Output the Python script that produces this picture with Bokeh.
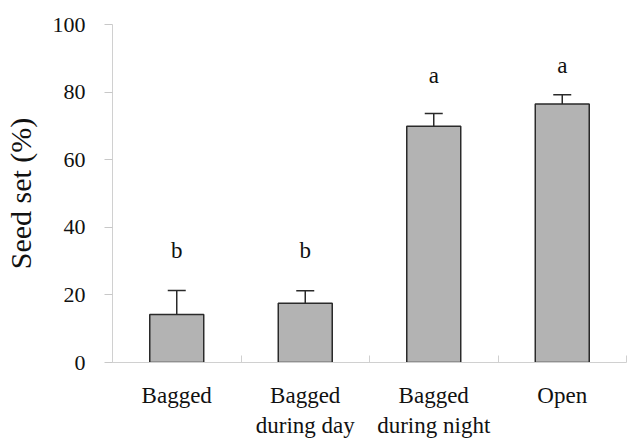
from bokeh.plotting import figure
from bokeh.models import ColumnDataSource, FixedTicker, Whisker, TeeHead, Range1d
from bokeh.core.properties import value
from bokeh.embed import file_html
from bokeh.resources import INLINE

categories = ["Bagged", "Bagged\nduring day", "Bagged\nduring night", "Open"]
seed_set = [14.2, 17.5, 69.9, 76.5]
se = [7.1, 3.7, 3.8, 2.7]
letters = ["b", "b", "a", "a"]
letter_y = [33.1, 33.1, 84.9, 87.9]
y_ticks = [0, 20, 40, 60, 80, 100]

FONT = "Liberation Serif"
xs = [i + 1 for i in range(len(categories))]
upper = [v + e for v, e in zip(seed_set, se)]

src = ColumnDataSource(dict(x=xs, top=seed_set, upper=upper, lt=letters, ly=letter_y))

p = figure(width=629, height=440, output_backend="svg", toolbar_location=None,
           x_range=Range1d(0.5, 4.5), y_range=Range1d(0, 100),
           min_border_left=106, min_border_right=3, min_border_top=24, min_border_bottom=78)
p.outline_line_color = None
p.grid.visible = False
p.background_fill_color = "white"

p.vbar(x="x", top="top", bottom=0, width=0.42, source=src,
       fill_color="#b3b3b3", line_color="#2a2a2a", line_width=1.5)

w = Whisker(base="x", lower="top", upper="upper", source=src, dimension="height",
            line_color="#2a2a2a", line_width=1.5,
            upper_head=TeeHead(size=18, line_color="#2a2a2a", line_width=1.5),
            lower_head=None)
p.add_layout(w)

p.text(x="x", y="ly", text="lt", source=src, text_align="center", text_baseline="middle",
       text_font=value(FONT), text_font_size="23px", text_color="#111111")

# x axis
xa = p.xaxis[0]
xa.ticker = FixedTicker(ticks=xs, minor_ticks=[0.5, 1.5, 2.5, 3.5, 4.5])
xa.major_label_overrides = {x: c for x, c in zip(xs, categories)}
xa.major_tick_line_color = None
xa.minor_tick_in = 7
xa.minor_tick_out = 0
xa.minor_tick_line_color = "#d0d0d0"
xa.axis_line_color = "#d0d0d0"
xa.major_label_text_font = FONT
xa.major_label_text_font_size = "23px"
xa.major_label_text_color = "#111111"
xa.major_label_standoff = 14

ya = p.yaxis[0]
ya.ticker = FixedTicker(ticks=y_ticks)
ya.minor_tick_line_color = None
ya.major_tick_in = 0
ya.major_tick_out = 8
ya.major_tick_line_color = "#c8c8c8"
ya.axis_line_color = "#d0d0d0"
ya.major_label_text_font = FONT
ya.major_label_text_font_size = "22px"
ya.major_label_text_color = "#111111"
ya.major_label_standoff = 19
ya.axis_label = "Seed set (%)"
ya.axis_label_text_font = FONT
ya.axis_label_text_font_size = "30px"
ya.axis_label_text_font_style = "normal"
ya.axis_label_text_color = "#111111"
ya.axis_label_standoff = 13

open("out.html", "w").write(file_html(p, INLINE))
